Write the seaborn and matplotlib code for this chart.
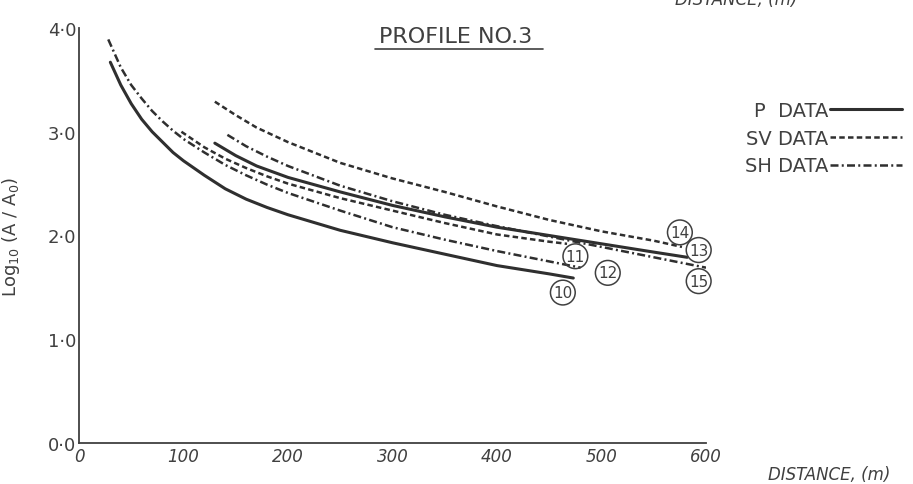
import matplotlib.pyplot as plt
from matplotlib.lines import Line2D
import seaborn as sns
import pandas as pd

# Profile No.3 - attenuation curves
# curve 10 (P)
dist_10 = [30, 40, 50, 60, 70, 80, 90, 100, 120, 140, 160, 180, 200, 250, 300, 350, 400, 450, 473]
logamp_10 = [3.67, 3.45, 3.27, 3.12, 3.00, 2.90, 2.80, 2.72, 2.58, 2.45, 2.35, 2.27, 2.20, 2.05, 1.93, 1.82, 1.71, 1.63, 1.59]

# curve 11 (SV)
dist_11 = [98, 120, 140, 160, 180, 200, 250, 300, 350, 400, 450, 467]
logamp_11 = [3.00, 2.85, 2.74, 2.65, 2.57, 2.50, 2.36, 2.24, 2.12, 2.01, 1.94, 1.92]

# curve 12 (SH)
dist_12 = [28, 40, 50, 60, 70, 80, 90, 100, 120, 140, 160, 180, 200, 250, 300, 350, 400, 450, 480]
logamp_12 = [3.89, 3.62, 3.45, 3.32, 3.20, 3.10, 3.01, 2.93, 2.80, 2.68, 2.58, 2.49, 2.41, 2.24, 2.08, 1.96, 1.85, 1.75, 1.69]

# curve 13 (P)
dist_13 = [130, 150, 170, 200, 250, 300, 350, 400, 450, 500, 550, 582]
logamp_13 = [2.89, 2.77, 2.67, 2.56, 2.42, 2.29, 2.18, 2.08, 2.00, 1.92, 1.84, 1.79]

# curve 14 (SV)
dist_14 = [130, 150, 170, 200, 250, 300, 350, 400, 450, 500, 550, 577]
logamp_14 = [3.29, 3.16, 3.04, 2.90, 2.70, 2.55, 2.42, 2.28, 2.15, 2.04, 1.95, 1.89]

# curve 15 (SH)
dist_15 = [142, 160, 180, 200, 250, 300, 350, 400, 450, 500, 550, 600]
logamp_15 = [2.97, 2.86, 2.76, 2.67, 2.48, 2.33, 2.20, 2.09, 1.99, 1.89, 1.79, 1.69]

curve_ids = ["10", "11", "12", "13", "14", "15"]
curve_waves = ["P", "SV", "SH", "P", "SV", "SH"]
x_ticks = [0, 100, 200, 300, 400, 500, 600]
x_tick_labels = ["0", "100", "200", "300", "400", "500", "600"]
y_ticks = [0, 1, 2, 3, 4]
y_tick_labels = ["0·0", "1·0", "2·0", "3·0", "4·0"]
legend_labels = {"P": "P  DATA", "SV": "SV DATA", "SH": "SH DATA"}

dists = [dist_10, dist_11, dist_12, dist_13, dist_14, dist_15]
logamps = [logamp_10, logamp_11, logamp_12, logamp_13, logamp_14, logamp_15]
frames = []
for cid, wave, d, a in zip(curve_ids, curve_waves, dists, logamps):
    frames.append(pd.DataFrame({"curve": cid, "wave": wave, "distance": d, "log_ratio": a}))
df = pd.concat(frames, ignore_index=True)

ink = "#2f2f2f"
text_col = "#404040"
wave_styles = {
    "P": dict(linestyle="-", linewidth=2.2),
    "SV": dict(linestyle=(0, (2.2, 1.3)), linewidth=1.8),
    "SH": dict(linestyle=(0, (3.2, 1.3, 0.8, 1.3)), linewidth=1.8),
}

sns.set_style("white")
plt.rcParams["font.family"] = ["DejaVu Sans"]

fig = plt.figure(figsize=(9.13, 4.85), dpi=100)
ax = fig.add_subplot(111)
fig.subplots_adjust(left=79 / 913, right=706 / 913, bottom=1 - 444 / 485, top=1 - 29 / 485)

handles = {}
for cid, wave in zip(curve_ids, curve_waves):
    sub = df[df["curve"] == cid]
    sns.lineplot(data=sub, x="distance", y="log_ratio", ax=ax, color=ink,
                 estimator=None, sort=False, legend=False, **wave_styles[wave])
    if wave not in handles:
        handles[wave] = ax.lines[-1]

# circled curve numbers
label_pos = {"10": (463, 1.45), "11": (475, 1.80), "12": (506, 1.64),
             "13": (593, 1.86), "14": (575, 2.03), "15": (593, 1.56)}
for cid in curve_ids:
    lx, ly = label_pos[cid]
    ax.text(lx, ly, cid, ha="center", va="center", fontsize=11, color=text_col,
            bbox=dict(boxstyle="circle,pad=0.18", fc="none", ec=text_col, lw=1.1))

ax.set_xlim(0, 600)
ax.set_ylim(0, 4)
ax.set_xticks(x_ticks)
ax.set_xticklabels(x_tick_labels, fontstyle="italic", fontsize=12, color=text_col)
ax.set_yticks(y_ticks)
ax.set_yticklabels(y_tick_labels, fontsize=13, color=text_col)
ax.tick_params(axis="x", direction="in", length=9, width=1.2, color=text_col, pad=3)
ax.tick_params(axis="y", direction="in", length=9, width=1.2, color=text_col, pad=2)

for side in ["top", "right"]:
    ax.spines[side].set_visible(False)
for side in ["left", "bottom"]:
    ax.spines[side].set_color(text_col)
    ax.spines[side].set_linewidth(1.3)

ax.set_xlabel("DISTANCE, (m)", fontstyle="italic", fontsize=12, color=text_col)
ax.xaxis.set_label_coords(1.196, -0.053)
ax.set_ylabel(r"Log$_{10}$ (A / A$_0$)", fontsize=13, color=text_col)
ax.yaxis.set_label_coords(-0.091, 0.5)

# title with underline
fig.text(456 / 913, 1 - 37 / 485, "PROFILE NO.3", ha="center", va="center",
         fontsize=16, color=text_col)
fig.add_artist(Line2D([375 / 913, 543 / 913], [1 - 50 / 485, 1 - 50 / 485],
                      transform=fig.transFigure, color=text_col, lw=1.2))

# label cut off at the top edge of the scan
fig.text(797 / 913, 1 - 5 / 485, "DISTANCE, (m)", ha="right", va="baseline",
         fontstyle="italic", fontsize=12, color=text_col)

order = ["P", "SV", "SH"]
leg = ax.legend([handles[w] for w in order], [legend_labels[w] for w in order],
                loc="upper left", bbox_to_anchor=(745 / 913, 1 - 102 / 485),
                bbox_transform=fig.transFigure, markerfirst=False, frameon=False,
                fontsize=14, handlelength=3.7, handletextpad=0.1, labelspacing=0.45,
                borderpad=0, borderaxespad=0)
for t in leg.get_texts():
    t.set_color(text_col)

fig.savefig("out.png", dpi=100, facecolor="white")
